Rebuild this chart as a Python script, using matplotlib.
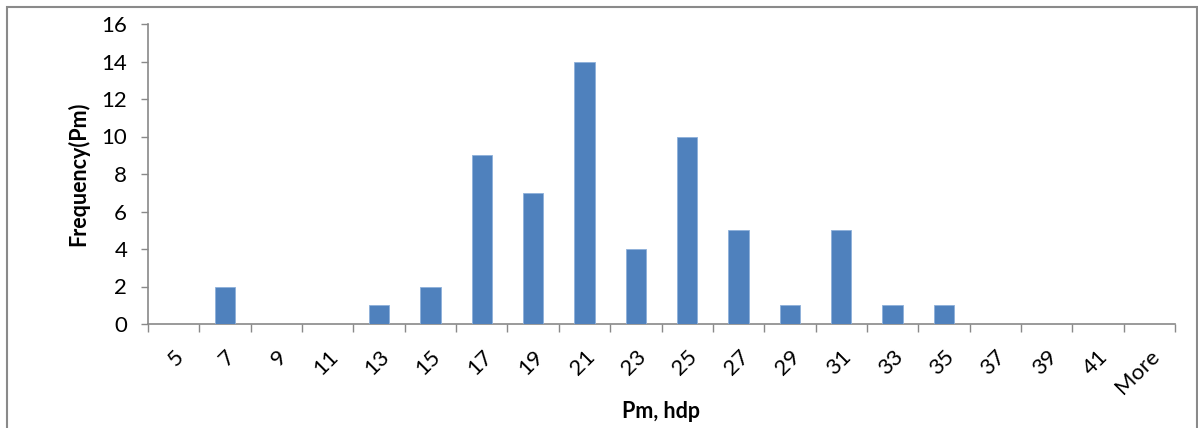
import matplotlib.pyplot as plt
from matplotlib.patches import Rectangle

# === Data ===
bins = ["5", "7", "9", "11", "13", "15", "17", "19", "21", "23", "25",
        "27", "29", "31", "33", "35", "37", "39", "41", "More"]
freq = [0, 2, 0, 0, 1, 2, 9, 7, 14, 4, 10, 5, 1, 5, 1, 1, 0, 0, 0, 0]

plt.rcParams['font.family'] = ['Lato', 'DejaVu Sans']
axis_col = '#898989'

fig = plt.figure(figsize=(11.98, 4.28), dpi=100)
ax = fig.add_axes([148 / 1198, 1 - 324 / 428, (1175 - 148) / 1198, 300 / 428])

x = list(range(len(bins)))
ax.bar(x, freq, width=0.4, color='#4F81BD', edgecolor='#8DB0DA', linewidth=0.6, zorder=3)

ax.set_xlim(-0.5, len(bins) - 0.5)
ax.set_ylim(0, 16)
ax.set_yticks(range(0, 17, 2))
ax.tick_params(axis='y', labelsize=16, length=5, width=1, color=axis_col, pad=10)

# category labels centred, ticks on the boundaries
ax.set_xticks(x)
ax.set_xticklabels(bins, rotation=45, fontsize=16, ha='right', rotation_mode='anchor')
ax.tick_params(axis='x', which='major', length=0, pad=16)
ax.set_xticks([i - 0.5 for i in range(len(bins) + 1)], minor=True)
ax.tick_params(axis='x', which='minor', length=6, width=1, color=axis_col)

for s in ['top', 'right']:
    ax.spines[s].set_visible(False)
for s in ['left', 'bottom']:
    ax.spines[s].set_color(axis_col)
    ax.spines[s].set_linewidth(1.2)

ax.set_xlabel("Pm, hdp", fontsize=15.5, fontweight='bold', labelpad=2)
ax.set_ylabel("Frequency(Pm)", fontsize=15.5, fontweight='bold', labelpad=9)

# outer chart frame
fig.patches.append(Rectangle((6.5 / 1198, -0.2), 1190 / 1198, 1.2 - 6.5 / 428,
                             transform=fig.transFigure, fill=False,
                             edgecolor='#8a8a8a', linewidth=1.5))

fig.savefig("out.png", dpi=100)
